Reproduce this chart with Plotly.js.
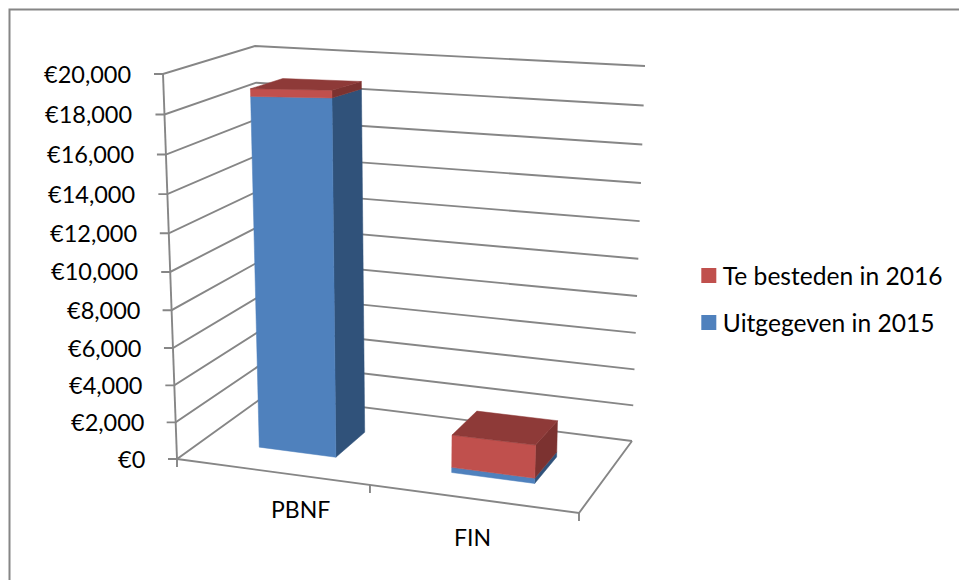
<!DOCTYPE html>
<html>
<head>
<meta charset="utf-8">
<script src="https://cdn.plot.ly/plotly-3.0.0.min.js"></script>
<style>html,body{margin:0;padding:0;background:#fff}#chart{width:959px;height:580px}</style>
</head>
<body>
<div id="chart"></div>
<script>
// ---- chart data ----
var categories = ['PBNF', 'FIN'];
var uitgegeven2015 = [18500, 270];
var tebesteden2016 = [380, 1680];
var valueTicks = [0, 2000, 4000, 6000, 8000, 10000, 12000, 14000, 16000, 18000, 20000];
var valueTickLabels = ['€0', '€2,000', '€4,000', '€6,000', '€8,000', '€10,000', '€12,000', '€14,000', '€16,000', '€18,000', '€20,000'];
var seriesNames = ['Te besteden in 2016', 'Uitgegeven in 2015'];

// ---- 3D box geometry (pixel position of the plot cube's corners) ----
var floorCube = {A: [177, 459], B: [579, 513], C: [632, 441], D: [266, 395]};
var topCube = {A: [163, 74], B: [592, 72], C: [645, 66], D: [255, 46]};
var slotEdges = [0, 0.48, 1];
var barFraction = 0.408, depthFront = 0.3, depthBack = 0.675;
var valueMax = 20000, persp = 1.058;

var GRID = '#868686', FONT = 'Lato, "Open Sans", sans-serif';
var faces = {
  blue: {front: '#4F81BD', side: '#30527A', top: '#3B628F'},
  red:  {front: '#C0504D', side: '#7C3230', top: '#8E3A38'}
};

function warp(v) { var t = v / valueMax; return t / (t + persp * (1 - t)); }
function lerp(p, q, a) { return [p[0] + (q[0] - p[0]) * a, p[1] + (q[1] - p[1]) * a]; }
function project(u, v, value) {
  function plane(c) { return lerp(lerp(c.A, c.B, u), lerp(c.D, c.C, u), v); }
  return lerp(plane(floorCube), plane(topCube), warp(value));
}
function polyTrace(points, color) {
  var pts = points.concat([points[0]]);
  return {x: pts.map(function (p) { return p[0]; }), y: pts.map(function (p) { return p[1]; }),
    mode: 'lines', fill: 'toself', fillcolor: color, line: {color: color, width: 0.5},
    hoverinfo: 'skip', showlegend: false, type: 'scatter'};
}
function lineTrace(segments, width) {
  var x = [], y = [];
  segments.forEach(function (s) {
    s.forEach(function (p) { x.push(p[0]); y.push(p[1]); });
    x.push(null); y.push(null);
  });
  return {x: x, y: y, mode: 'lines', line: {color: GRID, width: width || 1.9}, hoverinfo: 'skip', showlegend: false, type: 'scatter'};
}
function box(u0, u1, low, high, pal, withTop) {
  var a = project(u0, depthFront, low), b = project(u1, depthFront, low),
      c = project(u1, depthBack, low),
      e = project(u0, depthFront, high), f = project(u1, depthFront, high),
      g = project(u1, depthBack, high), h = project(u0, depthBack, high);
  var out = [polyTrace([b, c, g, f], pal.side), polyTrace([a, b, f, e], pal.front)];
  if (withTop) out.push(polyTrace([e, f, g, h], pal.top));
  return out;
}

var traces = [];
// frame of the chart area
traces.push(lineTrace([[[9.5, 590], [9.5, 9.5], [970, 9.5]]], 2));
// gridlines on the side wall and back wall, wall edge, floor edge, ticks
var grid = [];
valueTicks.forEach(function (val) {
  var p = project(0, 0, val);
  grid.push([[p[0] - 9, p[1]], p, project(0, 1, val), project(1, 1, val)]);
});
grid.push([project(0, 0, 0), project(0, 0, valueMax)]);
grid.push([project(0, 0, 0), project(1, 0, 0), project(1, 1, 0)]);
slotEdges.forEach(function (u) {
  var p = project(u, 0, 0);
  grid.push([p, [p[0], p[1] + 8]]);
});
traces.push(lineTrace(grid));
// stacked 3D bars
categories.forEach(function (name, i) {
  var s0 = slotEdges[i], s1 = slotEdges[i + 1], mid = (s0 + s1) / 2, half = (s1 - s0) * barFraction / 2;
  var total = uitgegeven2015[i] + tebesteden2016[i];
  traces = traces.concat(box(mid - half, mid + half, 0, uitgegeven2015[i], faces.blue, false));
  traces = traces.concat(box(mid - half, mid + half, uitgegeven2015[i], total, faces.red, true));
});
// legend entries
traces.push({x: [null], y: [null], type: 'scatter', mode: 'markers', name: seriesNames[0], legendgroup: 'a',
  marker: {symbol: 'square', size: 15, color: faces.red.front}});
traces.push({x: [null], y: [null], type: 'scatter', mode: 'markers', name: seriesNames[1], legendgroup: 'b',
  marker: {symbol: 'square', size: 15, color: faces.blue.front}});

// tick and category labels
var annotations = [];
valueTicks.forEach(function (val, i) {
  var p = project(0, 0, val);
  annotations.push({x: p[0] - 30, y: p[1] - 0.5, xref: 'x', yref: 'y', text: valueTickLabels[i], showarrow: false,
    xanchor: 'right', yanchor: 'middle', font: {family: FONT, size: 23.5, color: '#000'}});
});
var catOffset = [[27, 37], [-2, 38]];
categories.forEach(function (name, i) {
  var p = project((slotEdges[i] + slotEdges[i + 1]) / 2, 0, 0);
  annotations.push({x: p[0] + catOffset[i][0], y: p[1] + catOffset[i][1], xref: 'x', yref: 'y', text: name, showarrow: false,
    xanchor: 'center', yanchor: 'middle', font: {family: FONT, size: 23, color: '#000'}});
});

var layout = {
  width: 959, height: 580,
  margin: {l: 0, r: 0, t: 0, b: 0},
  paper_bgcolor: '#fff', plot_bgcolor: '#fff',
  xaxis: {range: [0, 959], visible: false, fixedrange: true},
  yaxis: {range: [580, 0], visible: false, fixedrange: true},
  showlegend: true,
  legend: {x: 0.712, y: 0.4845, xanchor: 'left', yanchor: 'middle', traceorder: 'grouped', tracegroupgap: 12,
    bgcolor: 'rgba(0,0,0,0)', font: {family: FONT, size: 24.6, color: '#000'}, itemclick: false, itemdoubleclick: false},
  annotations: annotations
};
Plotly.newPlot('chart', traces, layout, {staticPlot: true, displayModeBar: false}).then(function () {
  // the reference's swatches sit closer to their labels than Plotly's default
  document.querySelectorAll('.legend .legendsymbols').forEach(function (n) {
    n.setAttribute('transform', 'translate(6,0)');
  });
});
</script>
</body>
</html>
